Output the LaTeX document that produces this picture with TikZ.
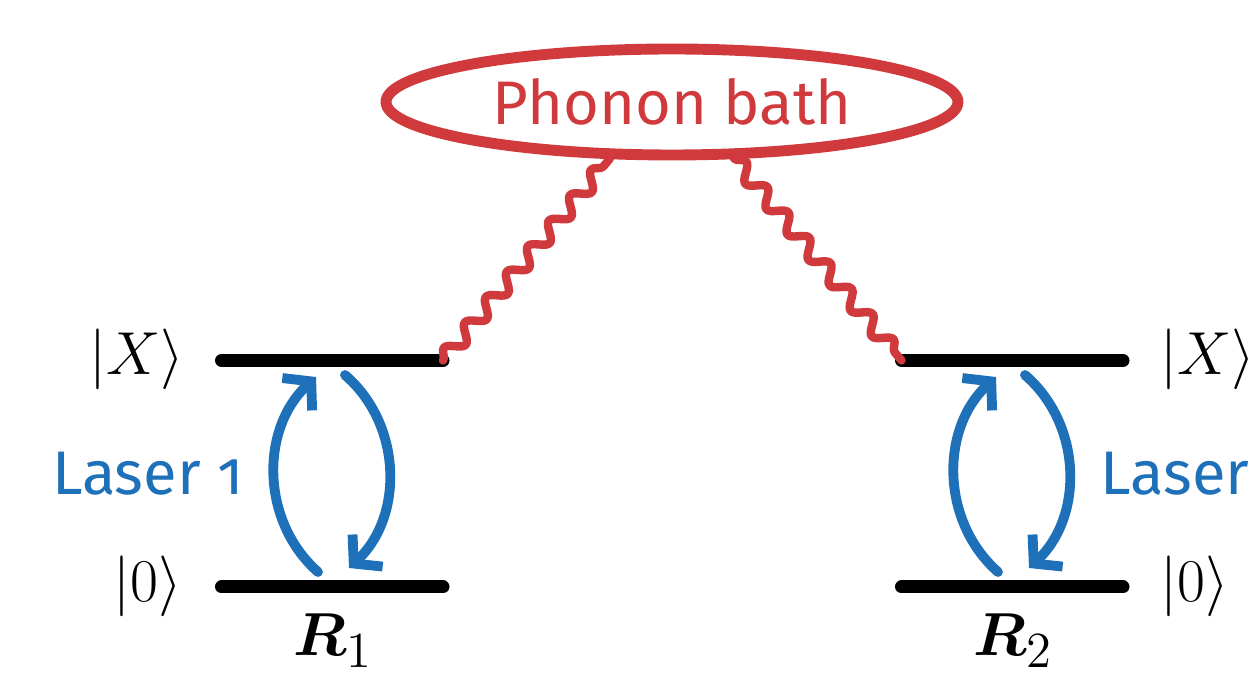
\documentclass[tikz,border=0pt]{standalone}
\usepackage{amsmath,amssymb}
\usepackage[no-math]{fontspec}
\newfontfamily\firasans[Numbers=OldStyle]{Fira Sans}
\usepackage{tikz}
\usepackage{xcolor}
\usetikzlibrary{arrows.meta,calc,decorations.pathmorphing,positioning,shapes.geometric}
\definecolor{bathred}{RGB}{208,58,60}
\definecolor{laserblue}{RGB}{30,112,185}
\tikzset{
  every picture/.append style={line cap=round,line join=round},
  dot level/.style={line width=3.7pt},
  dot state/.style={font=\fontsize{19}{23}\selectfont,inner sep=0pt},
  dot laser/.style={laserblue,line width=2.8pt,-{Straight Barb[length=1.9mm,width=4.4mm]}},
  dot label/.style={text=laserblue,font=\firasans\fontsize{17.5}{21}\selectfont,inner sep=0pt},
  dot phonon/.style={bathred,line width=2.4pt,decorate,decoration={snake,amplitude=0.75mm,segment length=3.3mm}},
  dot bath/.style={ellipse,draw=bathred,line width=3.1pt,text=bathred,font=\firasans\fontsize{17.5}{21}\selectfont,
    minimum width=5.72cm,minimum height=1.06cm,inner sep=0pt}
}

\begin{document}
\begin{tikzpicture}
\useasboundingbox (0,0) rectangle (12.58,-6.85);
% energy levels of the two dots
\coordinate (X1a) at (2.215,-3.605);
\coordinate (X1b) at (4.43,-3.605);
\coordinate (G1a) at (2.215,-5.87);
\coordinate (G1b) at (4.43,-5.87);
\coordinate (X2a) at (9.015,-3.605);
\coordinate (X2b) at (11.23,-3.605);
\coordinate (G2a) at (9.015,-5.87);
\coordinate (G2b) at (11.23,-5.87);
\draw[dot level] (X1a) -- (X1b);
\draw[dot level] (G1a) -- (G1b);
\draw[dot level] (X2a) -- (X2b);
\draw[dot level] (G2a) -- (G2b);
\node[dot state,anchor=east] (kX1) at (1.85,-3.59) {$|X\rangle$};
\node[dot state,anchor=east] (k01) at (1.83,-5.86) {$|0\rangle$};
\node[dot state,anchor=west] (kX2) at (11.6,-3.59) {$|X\rangle$};
\node[dot state,anchor=west] (k02) at (11.6,-5.86) {$|0\rangle$};
\node[dot state,anchor=north] (R1) at (3.33,-6.13) {$\boldsymbol{R}_1$};
\node[dot state,anchor=north] (R2) at (10.13,-6.13) {$\boldsymbol{R}_2$};
% laser driving
\coordinate (u1s) at (3.18,-5.72);
\coordinate (u1e) at (3.16,-3.77);
\coordinate (d1s) at (3.45,-3.75);
\coordinate (d1e) at (3.49,-5.68);
\coordinate (u2s) at (9.98,-5.72);
\coordinate (u2e) at (9.96,-3.77);
\coordinate (d2s) at (10.25,-3.75);
\coordinate (d2e) at (10.29,-5.68);
\draw[dot laser] (u1s) to[bend left=48] (u1e);
\draw[dot laser] (d1s) to[bend left=48] (d1e);
\draw[dot laser] (u2s) to[bend left=48] (u2e);
\draw[dot laser] (d2s) to[bend left=48] (d2e);
\node[dot label,anchor=base east] (L1) at (2.44,-4.95) {Laser 1};
\node[dot label,anchor=base west] (L2) at (11.0,-4.95) {Laser};
% phonon bath
\node[dot bath] (bath) at (6.72,-1.02) {Phonon bath};
\draw[dot phonon] (X1b) -- ($(bath.south)+(-0.62,0.02)$);
\draw[dot phonon] ($(bath.south)+(0.62,0.02)$) -- (X2a);
\end{tikzpicture}
\end{document}
